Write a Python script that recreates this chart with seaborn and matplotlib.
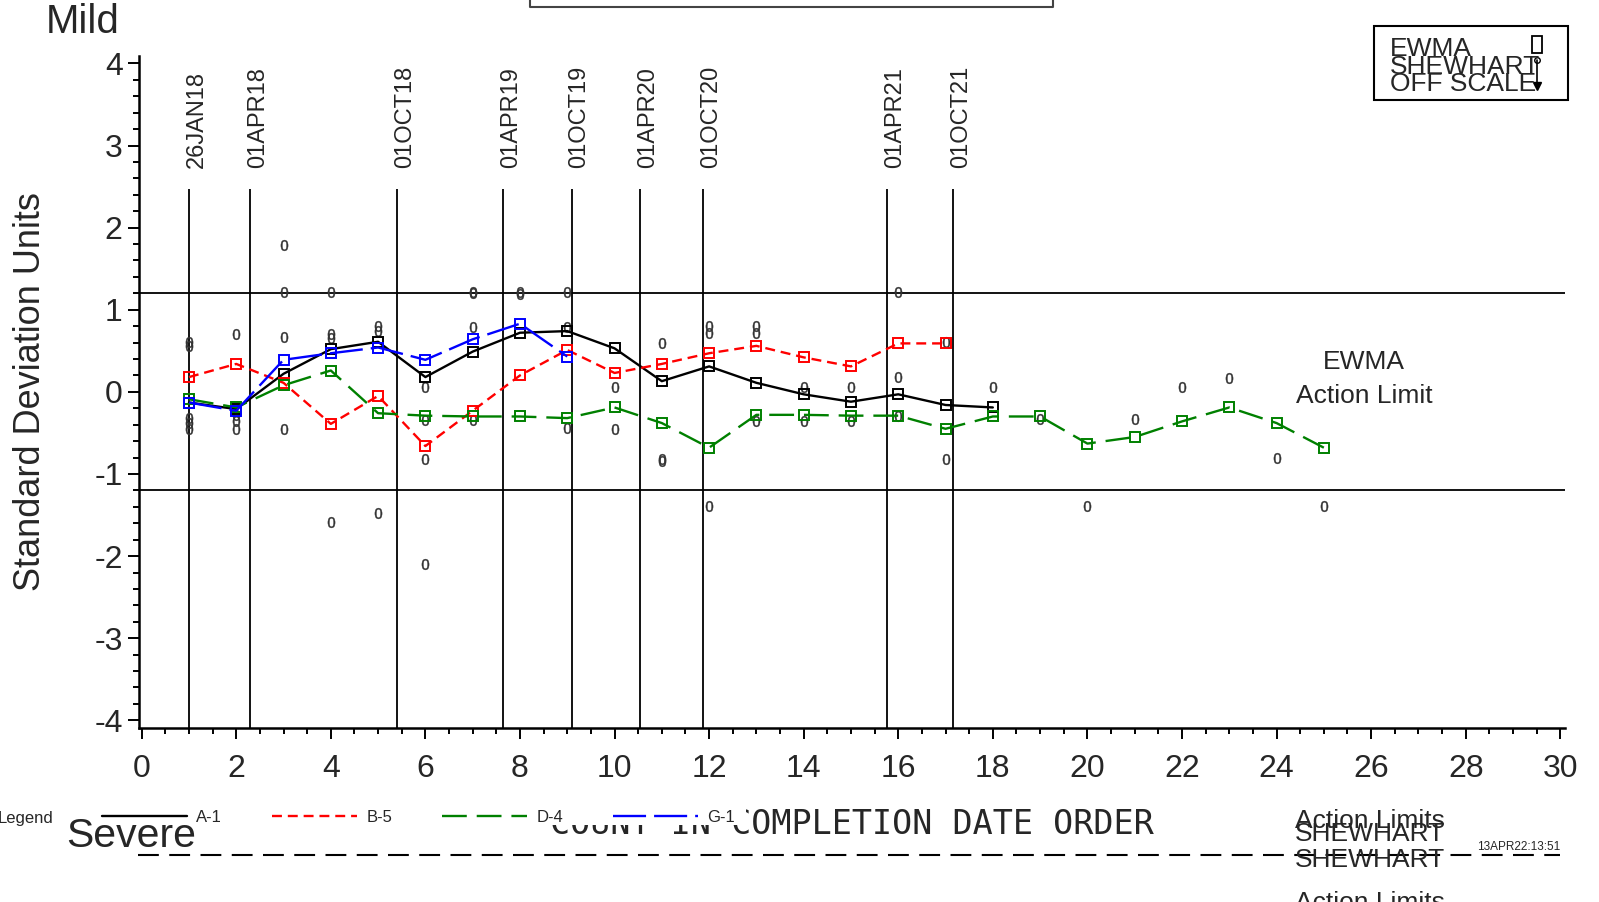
import matplotlib
matplotlib.use('Agg')
import matplotlib.pyplot as plt
import seaborn as sns
from matplotlib.lines import Line2D
from matplotlib.patches import Rectangle
from matplotlib.ticker import MultipleLocator

# EWMA values per site, by count in completion date order
count = list(range(1, 26))
a1 = [-0.13, -0.21, 0.22, 0.52, 0.61, 0.18, 0.49, 0.72, 0.74, 0.53, 0.13, 0.31, 0.11, -0.03, -0.12, -0.03, -0.16, -0.19]
b5 = [0.18, 0.34, 0.11, -0.39, -0.05, -0.66, -0.23, 0.20, 0.51, 0.23, 0.34, 0.47, 0.56, 0.42, 0.31, 0.59, 0.59]
d4 = [-0.09, -0.19, 0.08, 0.26, -0.26, -0.29, -0.30, -0.30, -0.32, -0.19, -0.38, -0.68, -0.28, -0.28, -0.29,
      -0.29, -0.45, -0.30, -0.30, -0.63, -0.55, -0.36, -0.19, -0.38, -0.68]
g1 = [-0.13, -0.23, 0.39, 0.47, 0.54, 0.39, 0.64, 0.83, 0.43]

# shewhart points (drawn as "0")
shew_x = [1, 1, 1, 1, 1, 2, 2, 2, 2, 3, 3, 3, 3, 4, 4, 4, 4, 5, 5, 5, 6, 6, 6, 6, 7, 7, 7, 7, 8, 8,
          9, 9, 9, 10, 10, 11, 11, 11, 12, 12, 12, 13, 13, 13, 14, 14, 15, 15, 16, 16, 16, 17, 17,
          18, 19, 20, 21, 22, 23, 24, 25]
shew_y = [0.61, 0.56, -0.32, -0.38, -0.45, 0.70, -0.28, -0.35, -0.45, 1.79, 1.22, 0.67, -0.45,
          1.22, 0.70, 0.66, -1.58, 0.80, 0.74, -1.47, 0.06, -0.34, -0.82, -2.10, 1.22, 1.20, 0.79, -0.34,
          1.22, 1.19, 1.22, 0.79, -0.44, 0.06, -0.45, 0.60, -0.82, -0.84, 0.80, 0.72, -1.39,
          0.80, 0.72, -0.36, 0.06, -0.36, 0.06, -0.36, 1.22, 0.18, -0.30, 0.61, -0.82,
          0.06, -0.33, -1.39, -0.33, 0.06, 0.17, -0.81, -1.39]

date_pos = [1.0, 2.30, 5.41, 7.64, 9.09, 10.53, 11.87, 15.76, 17.16]
date_labels = ['26JAN18', '01APR18', '01OCT18', '01APR19', '01OCT19', '01APR20', '01OCT20', '01APR21', '01OCT21']
limits = [1.2, -1.2]

sns.set_style('white')
plt.rcParams['font.family'] = ['Liberation Sans', 'DejaVu Sans']
plt.rcParams['axes.unicode_minus'] = False

W, H = 1599, 902
def fx(px):
    return px / W
def fy(py):
    return 1 - py / H

fig = plt.figure(figsize=(W / 100, H / 100), dpi=100)
ax = fig.add_axes([fx(139.3), fy(727.7), (1565 - 139.3) / W, (727.7 - 56) / H])

# shewhart zeros underneath the EWMA lines
sns.scatterplot(x=shew_x, y=shew_y, marker='$0$', s=60, color='#333333', edgecolor='#333333',
                linewidth=0.3, ax=ax, zorder=1.5)

series = [
    ('A-1', a1, 'black', '-'),
    ('B-5', b5, '#ff0000', (0, (4.2, 2.5))),
    ('D-4', d4, '#008000', (0, (10.5, 4.2))),
    ('G-1', g1, '#0000ff', (0, (14, 3.4))),
]
for name, vals, col, ls in series:
    sns.lineplot(x=count[:len(vals)], y=vals, color=col, linestyle=ls, linewidth=1.7,
                 marker='s', markersize=7.5, markerfacecolor='none', markeredgecolor=col,
                 markeredgewidth=1.4, ax=ax, zorder=3)

for lim in limits:
    ax.axhline(lim, color='black', lw=1.3, zorder=1)

ax.vlines(date_pos, -4.09, 2.47, color='black', lw=1.3, zorder=1)
for pos, lab in zip(date_pos, date_labels):
    ax.text(pos + 0.17, 2.72, lab, rotation=90, ha='center', va='bottom', fontsize=17)

ax.text(25.85, 0.36, 'EWMA', ha='center', va='center', fontsize=19)
ax.text(25.85, -0.05, 'Action Limit', ha='center', va='center', fontsize=19)

ax.set_xlim(-0.05, 30.1)
ax.set_ylim(-4.09, 4.09)
ax.xaxis.set_major_locator(MultipleLocator(2))
ax.xaxis.set_minor_locator(MultipleLocator(0.5))
ax.yaxis.set_major_locator(MultipleLocator(1))
ax.yaxis.set_minor_locator(MultipleLocator(0.2))
for side in ['top', 'right']:
    ax.spines[side].set_visible(False)
for side in ['left', 'bottom']:
    ax.spines[side].set_linewidth(1.8)
    ax.spines[side].set_color('black')
ax.tick_params(which='both', direction='out', bottom=True, left=True, color='black', width=1.4)
ax.tick_params(which='major', length=8, labelsize=23)
ax.tick_params(which='minor', length=4.3)
ax.tick_params(axis='x', which='major', pad=11)
ax.tick_params(axis='y', which='major', pad=4)
ax.set_xlabel('')
ax.set_ylabel('Standard Deviation Units', fontsize=26)
ax.yaxis.set_label_coords((31 - 139.3) / (1565 - 139.3), 0.5)
ax.yaxis.label.set_va('center')

# header / footer texts
fig.text(fx(46), fy(22), 'Mild', fontsize=29, va='center', ha='left')
fig.text(fx(66), fy(836), 'Severe', fontsize=29.5, va='center', ha='left')
fig.add_artist(Line2D([fx(530), fx(530), fx(1053), fx(1053)], [fy(-2), fy(7), fy(7), fy(-2)],
                      transform=fig.transFigure, color='#444444', lw=1.5))

# symbol key box, top right
fig.add_artist(Rectangle((fx(1374), fy(100)), (1568 - 1374) / W, (100 - 26.5) / H,
                         transform=fig.transFigure, fill=False, ec='black', lw=1.5))
for txt, py in [('EWMA', 49), ('SHEWHART', 67), ('OFF SCALE', 84)]:
    fig.text(fx(1390), fy(py), txt, fontsize=19, va='center', ha='left')
fig.add_artist(Rectangle((fx(1532), fy(53)), 10 / W, 17 / H, transform=fig.transFigure,
                         fill=False, ec='black', lw=1.3))
fig.add_artist(Line2D([fx(1537), fx(1537)], [fy(60), fy(88)], transform=fig.transFigure,
                      color='black', lw=1.2))
fig.add_artist(Line2D([fx(1537)], [fy(60)], transform=fig.transFigure, marker='o',
                      markersize=4, mfc='none', mec='black'))
fig.add_artist(Line2D([fx(1537)], [fy(86)], transform=fig.transFigure, marker='v',
                      markersize=6, color='black'))

# bottom legend
fig.text(fx(53), fy(818), 'Legend', ha='right', va='center', fontsize=12)
handles = [Line2D([], [], color=col, linestyle=ls, lw=1.7) for _, _, col, ls in series]
labels = [s[0] for s in series]
leg = fig.legend(handles, labels, loc='center left', bbox_to_anchor=(fx(102), fy(817)), ncol=4,
                 frameon=False, fontsize=12, handlelength=5.1, handletextpad=0.55,
                 columnspacing=3.0, borderpad=0, borderaxespad=0)
leg.set_zorder(4)

fig.text(fx(852), fy(825), 'COUNT IN COMPLETION DATE ORDER', family='DejaVu Sans Mono',
         fontsize=24, ha='center', va='center', zorder=1)
fig.add_artist(Rectangle((fx(540), fy(825)), (746 - 540) / W, (825 - 795) / H,
                         transform=fig.transFigure, fc='white', ec='none', zorder=2))

fig.add_artist(Line2D([fx(138), fx(1560)], [fy(855), fy(855)], transform=fig.transFigure,
                      color='black', lw=1.5, linestyle=(0, (10, 5))))
for txt, py in [('Action Limits', 821), ('SHEWHART', 834), ('SHEWHART', 860), ('Action Limits', 903)]:
    fig.text(fx(1295), fy(py), txt, fontsize=19, va='center', ha='left')
fig.text(fx(1477), fy(847), '13APR22:13:51', fontsize=8.5, va='center', ha='left')

fig.savefig('out.png', dpi=100)
